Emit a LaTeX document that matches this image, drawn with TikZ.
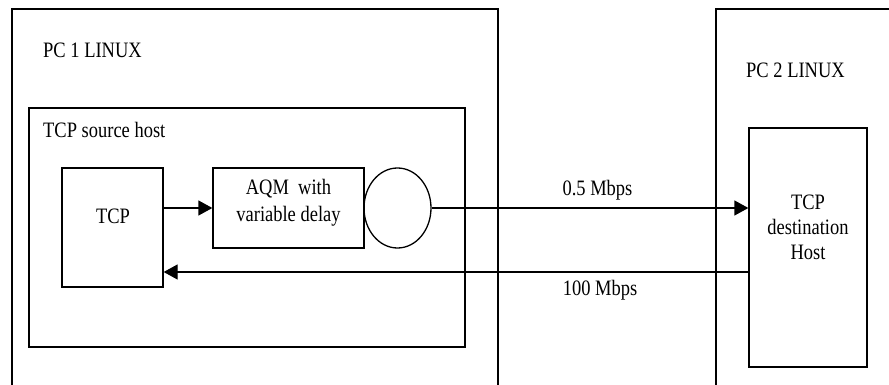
\documentclass[tikz,border=0pt]{standalone}
\usepackage{fontspec}
\setmainfont[FakeStretch=0.84]{Liberation Serif}
\usetikzlibrary{arrows.meta,shapes.geometric}
\begin{document}
\begin{tikzpicture}[x=1pt,y=-1pt,
  every node/.style={font=\fontsize{22}{25}\selectfont, inner sep=0pt},
  line/.style={line width=1.3pt, draw=black},
  arr/.style={line, -{Triangle[length=14pt,width=15pt]}},
  lbl/.style={anchor=west}
]
\useasboundingbox (0,0) rectangle (889,385);
% outer PC boxes (open at bottom / right)
\draw[line] (12,385) -- (12,9) -- (498,9) -- (498,385);
\draw[line] (716,385) -- (716,9) -- (889,9);
\node[lbl] (pc1) at (43,50) {PC 1 LINUX};
\node[lbl] (pc2) at (746,70) {PC 2 LINUX};
% source host box
\node[line, rectangle, minimum width=436pt, minimum height=239pt] (src) at (247,227.5) {};
\node[lbl] (srclbl) at (43,130) {TCP source host};
% inner boxes
\node[line, rectangle, minimum width=101pt, minimum height=119pt] (tcp) at (112.5,227.5) {};
\node (tcptxt) at (113,216) {TCP};
\node[line, rectangle, minimum width=151pt, minimum height=80pt] (aqm) at (288.5,208) {};
\node[align=center, font=\fontsize{22}{27}\selectfont] (aqmtxt) at (288.5,203) {AQM\ \ with\\variable delay};
\node[line, ellipse, minimum width=67pt, minimum height=80pt] (q) at (397.5,208) {};
\node[line, rectangle, minimum width=118pt, minimum height=239pt] (dst) at (808,247.5) {};
\node[align=center, font=\fontsize{22}{25}\selectfont] (dsttxt) at (808,227) {TCP\\destination\\Host};
% connectors
\coordinate (fwdend) at (dst.west |- q.east);
\coordinate (retstart) at (749,272);
\coordinate (retend) at (tcp.east |- retstart);
\draw[arr] (tcp.east |- aqm.west) -- (aqm.west);
\draw[arr] (q.east) -- (fwdend);
\draw[arr] (retstart) -- (retend);
\node (bw1) at (597.5,190) {0.5 Mbps};
\node (bw2) at (600,290) {100 Mbps};
\end{tikzpicture}
\end{document}
